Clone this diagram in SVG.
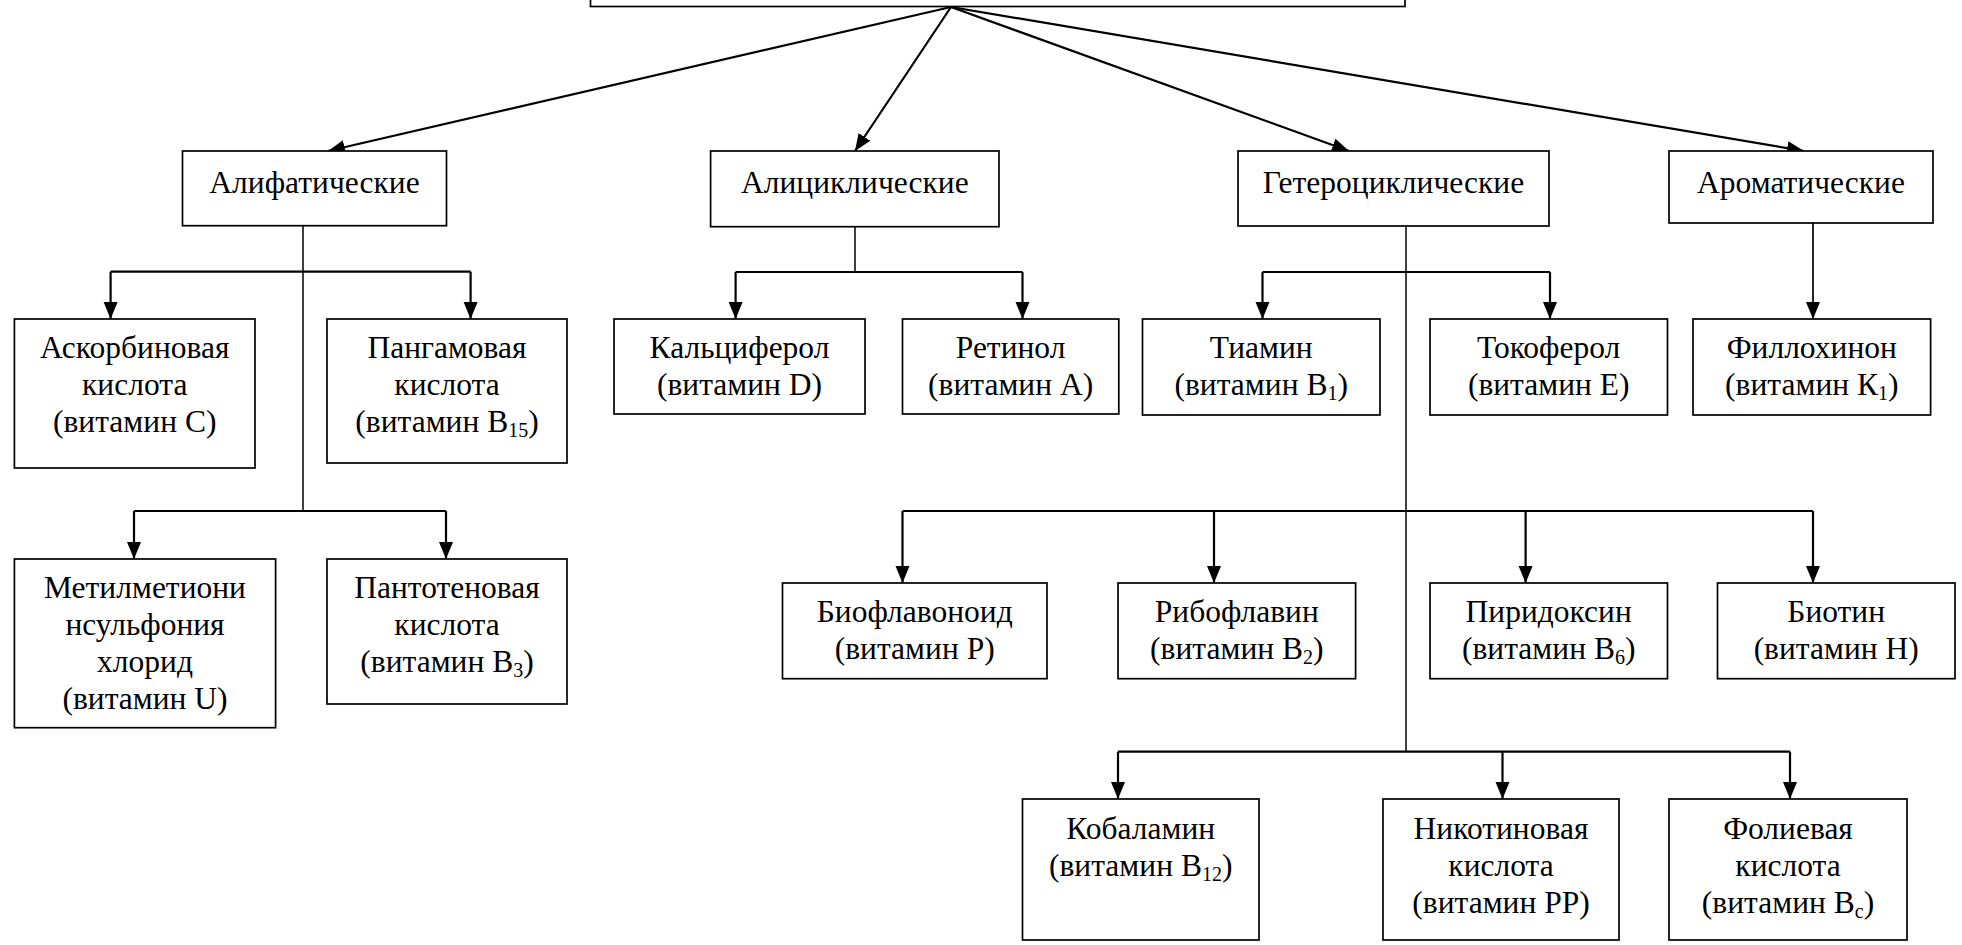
<svg xmlns="http://www.w3.org/2000/svg" width="1962" height="945" viewBox="0 0 1962 945">
<defs>
<style>
.box{fill:#fff;stroke:#000;stroke-width:1.7}
.t{font-family:"Liberation Serif","Times New Roman",serif;font-size:31.5px;fill:#000;text-anchor:middle}
.c{fill:none;stroke:#000;stroke-width:2.2}
.thin{fill:none;stroke:#000;stroke-width:1.5}
.a{fill:none;stroke:#000;stroke-width:2.2;marker-end:url(#ah)}
.s{font-size:20px}
</style>
<marker id="ah" markerUnits="userSpaceOnUse" markerWidth="18" markerHeight="15" refX="17" refY="7" orient="auto">
<path d="M0,0 L17,7 L0,14 z" fill="#000"/>
</marker>
</defs>
<rect width="1962" height="945" fill="#fff"/>

<g id="connectors">
<line class="a" x1="951" y1="7" x2="328" y2="151"/>
<line class="a" x1="951" y1="7" x2="855" y2="151"/>
<line class="a" x1="951" y1="7" x2="1349" y2="151"/>
<line class="a" x1="951" y1="7" x2="1804" y2="151"/>

<line class="thin" x1="303" y1="226" x2="303" y2="511"/>
<polyline class="c" points="110.6,271.7 470.6,271.7"/>
<line class="a" x1="110.6" y1="271.7" x2="110.6" y2="319"/>
<line class="a" x1="470.6" y1="271.7" x2="470.6" y2="319"/>
<polyline class="c" points="134,511 446,511"/>
<line class="a" x1="134" y1="511" x2="134" y2="559"/>
<line class="a" x1="446" y1="511" x2="446" y2="559"/>

<line class="thin" x1="855" y1="227" x2="855" y2="272"/>
<polyline class="c" points="735.6,272 1022.5,272"/>
<line class="a" x1="735.6" y1="272" x2="735.6" y2="319"/>
<line class="a" x1="1022.5" y1="272" x2="1022.5" y2="319"/>

<line class="thin" x1="1406" y1="226" x2="1406" y2="751.7"/>
<polyline class="c" points="1262.5,272 1550,272"/>
<line class="a" x1="1262.5" y1="272" x2="1262.5" y2="319"/>
<line class="a" x1="1550" y1="272" x2="1550" y2="319"/>
<polyline class="c" points="902.5,511 1813,511"/>
<line class="a" x1="902.5" y1="511" x2="902.5" y2="583"/>
<line class="a" x1="1214" y1="511" x2="1214" y2="583"/>
<line class="a" x1="1525.6" y1="511" x2="1525.6" y2="583"/>
<line class="a" x1="1813" y1="511" x2="1813" y2="583"/>
<polyline class="c" points="1118,751.7 1790,751.7"/>
<line class="a" x1="1118" y1="751.7" x2="1118" y2="799"/>
<line class="a" x1="1502.5" y1="751.7" x2="1502.5" y2="799"/>
<line class="a" x1="1790" y1="751.7" x2="1790" y2="799"/>

<line class="a" x1="1813" y1="223" x2="1813" y2="319" style="stroke-width:1.7"/>
</g>

<g id="root"><rect class="box" x="590.5" y="-40" width="814.5" height="46.5"/></g>

<g id="aliphatic"><rect class="box" x="182.5" y="151" width="264" height="74.7"/><text class="t" x="314.5" y="192.7">Алифатические</text></g>
<g id="alicyclic"><rect class="box" x="710.6" y="151" width="288.4" height="75.7"/><text class="t" x="854.8" y="193">Алициклические</text></g>
<g id="heterocyclic"><rect class="box" x="1238" y="151" width="311" height="75"/><text class="t" x="1393.5" y="193">Гетероциклические</text></g>
<g id="aromatic"><rect class="box" x="1669" y="151" width="264" height="72"/><text class="t" x="1801" y="193">Ароматические</text></g>

<g id="ascorbic"><rect class="box" x="14.4" y="319" width="240.6" height="149"/><text class="t" x="134.7" y="358">Аскорбиновая</text><text class="t" x="134.7" y="395">кислота</text><text class="t" x="134.7" y="432">(витамин С)</text></g>
<g id="pangamic"><rect class="box" x="327" y="319" width="240" height="144"/><text class="t" x="447" y="358">Пангамовая</text><text class="t" x="447" y="395">кислота</text><text class="t" x="447" y="432">(витамин B<tspan class="s" dy="5">15</tspan><tspan dy="-5">)</tspan></text></g>
<g id="calciferol"><rect class="box" x="614" y="319" width="251" height="95"/><text class="t" x="739.5" y="358">Кальциферол</text><text class="t" x="739.5" y="395">(витамин D)</text></g>
<g id="retinol"><rect class="box" x="902.5" y="319" width="216.3" height="95"/><text class="t" x="1010.6" y="358">Ретинол</text><text class="t" x="1010.6" y="395">(витамин А)</text></g>
<g id="thiamine"><rect class="box" x="1142.5" y="319" width="237.5" height="96"/><text class="t" x="1261.2" y="358">Тиамин</text><text class="t" x="1261.2" y="395">(витамин B<tspan class="s" dy="5">1</tspan><tspan dy="-5">)</tspan></text></g>
<g id="tocopherol"><rect class="box" x="1430" y="319" width="237.5" height="96"/><text class="t" x="1548.7" y="358">Токоферол</text><text class="t" x="1548.7" y="395">(витамин Е)</text></g>
<g id="phylloquinone"><rect class="box" x="1693" y="319" width="237.6" height="96"/><text class="t" x="1811.8" y="358">Филлохинон</text><text class="t" x="1811.8" y="395">(витамин К<tspan class="s" dy="5">1</tspan><tspan dy="-5">)</tspan></text></g>

<g id="methylmethionine"><rect class="box" x="14.4" y="559" width="261.2" height="168.7"/><text class="t" x="145" y="598">Метилметиони</text><text class="t" x="145" y="635">нсульфония</text><text class="t" x="145" y="672">хлорид</text><text class="t" x="145" y="709">(витамин U)</text></g>
<g id="pantothenic"><rect class="box" x="327" y="559" width="240" height="145"/><text class="t" x="447" y="598">Пантотеновая</text><text class="t" x="447" y="635">кислота</text><text class="t" x="447" y="672">(витамин B<tspan class="s" dy="5">3</tspan><tspan dy="-5">)</tspan></text></g>

<g id="bioflavonoid"><rect class="box" x="782.5" y="583" width="264.5" height="95.7"/><text class="t" x="914.7" y="622">Биофлавоноид</text><text class="t" x="914.7" y="659">(витамин Р)</text></g>
<g id="riboflavin"><rect class="box" x="1118" y="583" width="237.6" height="95.7"/><text class="t" x="1236.8" y="622">Рибофлавин</text><text class="t" x="1236.8" y="659">(витамин B<tspan class="s" dy="5">2</tspan><tspan dy="-5">)</tspan></text></g>
<g id="pyridoxine"><rect class="box" x="1430" y="583" width="237.5" height="95.7"/><text class="t" x="1548.7" y="622">Пиридоксин</text><text class="t" x="1548.7" y="659">(витамин B<tspan class="s" dy="5">6</tspan><tspan dy="-5">)</tspan></text></g>
<g id="biotin"><rect class="box" x="1717.5" y="583" width="237.5" height="95.7"/><text class="t" x="1836.2" y="622">Биотин</text><text class="t" x="1836.2" y="659">(витамин Н)</text></g>

<g id="cobalamin"><rect class="box" x="1022.5" y="799" width="236.5" height="141"/><text class="t" x="1140.7" y="839">Кобаламин</text><text class="t" x="1140.7" y="876">(витамин B<tspan class="s" dy="5">12</tspan><tspan dy="-5">)</tspan></text></g>
<g id="nicotinic"><rect class="box" x="1383" y="799" width="236" height="141"/><text class="t" x="1501" y="839">Никотиновая</text><text class="t" x="1501" y="876">кислота</text><text class="t" x="1501" y="913">(витамин PP)</text></g>
<g id="folic"><rect class="box" x="1669" y="799" width="238" height="141"/><text class="t" x="1788" y="839">Фолиевая</text><text class="t" x="1788" y="876">кислота</text><text class="t" x="1788" y="913">(витамин B<tspan class="s" dy="5">c</tspan><tspan dy="-5">)</tspan></text></g>
</svg>
